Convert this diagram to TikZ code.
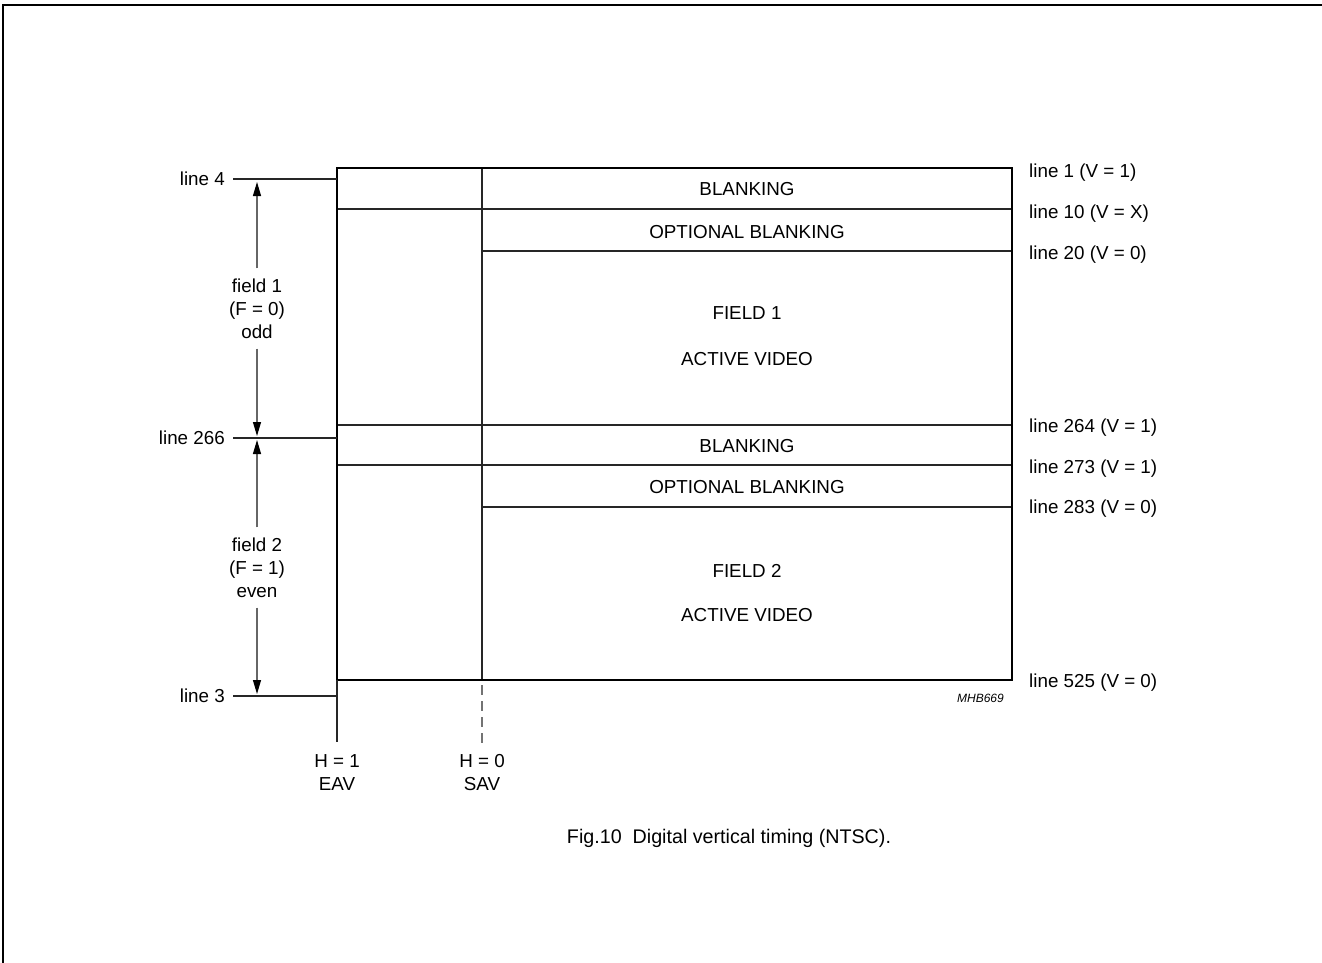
\documentclass[tikz,border=0pt]{standalone}
\usepackage{fontspec}
\setmainfont{Liberation Sans}
\usetikzlibrary{arrows.meta}
\begin{document}
\begin{tikzpicture}[x=1pt,y=-1pt,
  txt/.style={inner sep=0pt, font=\fontsize{18.8}{23}\selectfont},
  leftlbl/.style={txt, anchor=east, inner xsep=8pt},
  rightlbl/.style={txt, anchor=base west},
  midlbl/.style={txt, anchor=base},
  fieldlbl/.style={txt, align=center, inner ysep=10pt},
  boxline/.style={line width=2.9pt, black},
  thinline/.style={line width=1.2pt, black!85},
  dimline/.style={line width=1.1pt, black!60, -{Triangle[length=14pt,width=8pt,color=black]}},
  dashline/.style={line width=1.3pt, black!55, dash pattern=on 9.5pt off 6.5pt}
]
\useasboundingbox (0,0) rectangle (1322,963);
% page frame (top and left edges)
\draw[line width=2pt] (3,963) -- (3,5) -- (1322,5);

% box corners and key coordinates
\coordinate (tl) at (337,168);
\coordinate (tr) at (1012,168);
\coordinate (bl) at (337,680);
\coordinate (br) at (1012,680);
\coordinate (st) at (482,168);
\coordinate (sb) at (482,680);

% inner lines
\draw[thinline] (st) -- (sb);
\draw[thinline] (337,209) -- (1012,209);
\draw[thinline] (482,251) -- (1012,251);
\draw[thinline] (337,425) -- (1012,425);
\draw[thinline] (337,465) -- (1012,465);
\draw[thinline] (482,507) -- (1012,507);
% outer box
\draw[boxline] (tl) rectangle (br);

% EAV / SAV markers
\coordinate (eavend) at (337,742);
\coordinate (savtop) at (482,685);
\coordinate (savend) at (482,743);
\draw[thinline] (bl) -- (eavend);
\draw[dashline] (savtop) -- (savend);
\node[txt, anchor=north, align=center] (eav) at (337,754) {H = 1\\EAV};
\node[txt, anchor=north, align=center] (sav) at (482,754) {H = 0\\SAV};

% left labels with leaders
\node[leftlbl] (l4) at (233,179) {line 4};
\node[leftlbl] (l266) at (233,438) {line 266};
\node[leftlbl] (l3) at (233,696) {line 3};
\coordinate (c4) at (337,179);
\coordinate (c266) at (337,438);
\coordinate (c3) at (337,696);
\draw[thinline] (l4.east) -- (c4);
\draw[thinline] (l266.east) -- (c266);
\draw[thinline] (l3.east) -- (c3);

% field arrows
\coordinate (a4) at (257,182);
\coordinate (a266u) at (257,436);
\coordinate (a266d) at (257,440);
\coordinate (a3) at (257,694);
\node[fieldlbl] (f1) at (257,308.5) {field 1\\(F = 0)\\odd};
\node[fieldlbl] (f2) at (257,567.5) {field 2\\(F = 1)\\even};
\draw[dimline] (f1.north) -- (a4);
\draw[dimline] (f1.south) -- (a266u);
\draw[dimline] (f2.north) -- (a266d);
\draw[dimline] (f2.south) -- (a3);

% right labels
\node[rightlbl] (r1) at (1029,177) {line 1 (V = 1)};
\node[rightlbl] (r10) at (1029,218) {line 10 (V = X)};
\node[rightlbl] (r20) at (1029,259) {line 20 (V = 0)};
\node[rightlbl] (r264) at (1029,432) {line 264 (V = 1)};
\node[rightlbl] (r273) at (1029,473) {line 273 (V = 1)};
\node[rightlbl] (r283) at (1029,513) {line 283 (V = 0)};
\node[rightlbl] (r525) at (1029,687) {line 525 (V = 0)};

% region labels
\node[midlbl] (b1) at (747,195) {BLANKING};
\node[midlbl] (ob1) at (747,238) {OPTIONAL BLANKING};
\node[midlbl] (fd1) at (747,319) {FIELD 1};
\node[midlbl] (av1) at (747,365) {ACTIVE VIDEO};
\node[midlbl] (b2) at (747,452) {BLANKING};
\node[midlbl] (ob2) at (747,493) {OPTIONAL BLANKING};
\node[midlbl] (fd2) at (747,577) {FIELD 2};
\node[midlbl] (av2) at (747,621) {ACTIVE VIDEO};

% code and caption
\node[inner sep=0pt, anchor=base east, font=\fontsize{12}{14}\selectfont\itshape] (code) at (1004,702) {MHB669};
\node[inner sep=0pt, anchor=base, font=\fontsize{19.7}{24}\selectfont] (cap) at (729,843) {Fig.10\ \ Digital vertical timing (NTSC).};
\end{tikzpicture}
\end{document}
